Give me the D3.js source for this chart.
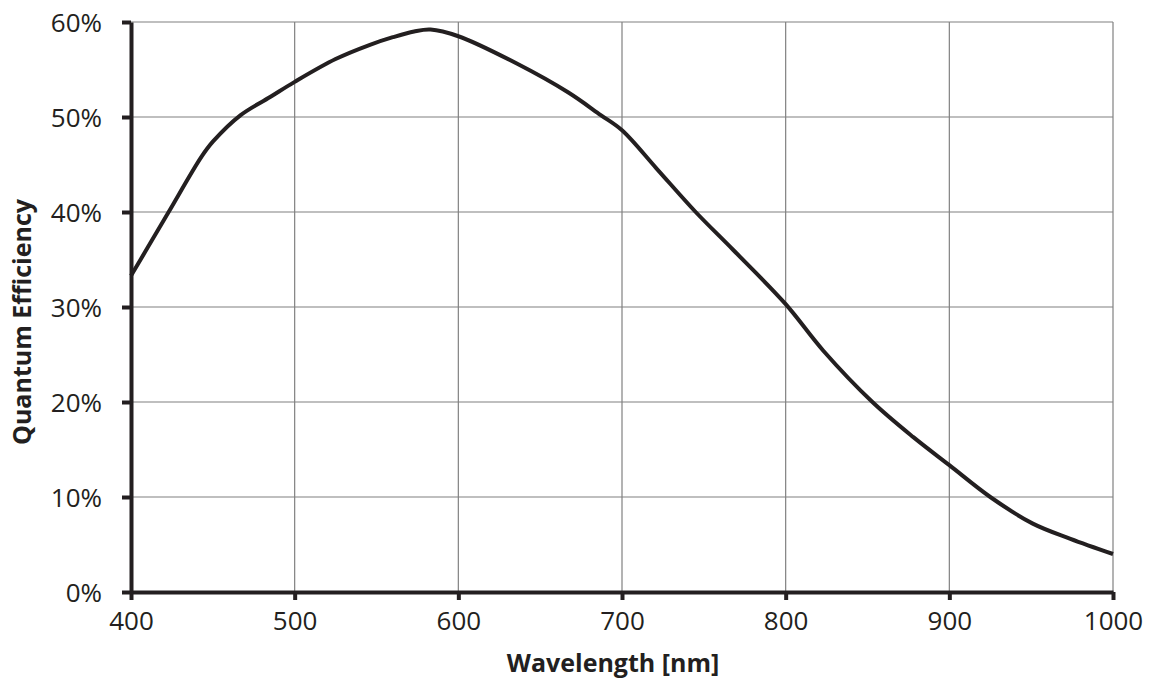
<!DOCTYPE html>
<meta charset="utf-8">
<html>
<head>
  <script src="https://d3js.org/d3.v7.min.js" charset="utf-8"></script>
</head>
<style>
body { margin: 0; background: white; }
text { font-family: "Open Sans", sans-serif; fill: #231f20; }
.tick-label { font-size: 26px; }
.title { font-size: 25px; font-weight: bold; text-anchor: middle; }
</style>
<body>
<div id="container"></div>
<script>
// wavelength in nm, quantum efficiency in %
var wavelengths = [400, 410, 423, 443, 450, 467, 485, 500, 525, 546, 560, 573, 583, 600,
                   636, 667, 687, 700, 721, 745, 768, 800, 823, 853, 878, 900, 925, 951, 974, 1000];
var efficiency  = [33.3, 36.2, 40.0, 45.8, 47.4, 50.2, 52.1, 53.7, 56.1, 57.6, 58.4, 59.0, 59.2, 58.5,
                   55.6, 52.6, 50.2, 48.6, 44.6, 40.0, 36.0, 30.3, 25.4, 20.0, 16.3, 13.35, 10.0, 7.2, 5.6, 4.0];
var xTicks = [400, 500, 600, 700, 800, 900, 1000];
var yTicks = [0, 10, 20, 30, 40, 50, 60];

var width = 1152, height = 680;
var margin = {left: 131, right: 39, top: 22, bottom: 88};

var svg = d3.select("#container").append("svg")
    .attr("width", width).attr("height", height);

var x = d3.scaleLinear().domain([400, 1000]).range([margin.left, width - margin.right]);
var y = d3.scaleLinear().domain([0, 60]).range([height - margin.bottom, margin.top]);

// grid
svg.append("g").selectAll("line").data(yTicks.filter(d => d > 0)).enter().append("line")
    .attr("x1", margin.left).attr("x2", width - margin.right)
    .attr("y1", d => y(d)).attr("y2", d => y(d))
    .attr("stroke", "#808080").attr("stroke-width", 1.2);
svg.append("g").selectAll("line").data(xTicks.filter(d => d > 400)).enter().append("line")
    .attr("x1", d => x(d)).attr("x2", d => x(d))
    .attr("y1", margin.top).attr("y2", height - margin.bottom)
    .attr("stroke", "#808080").attr("stroke-width", 1.2);

// curve
var pts = wavelengths.map((w, i) => [w, efficiency[i]]);
var line = d3.line().x(d => x(d[0])).y(d => y(d[1])).curve(d3.curveCatmullRom.alpha(0.5));
svg.append("path").datum(pts)
    .attr("d", line)
    .attr("fill", "none").attr("stroke", "#231f20").attr("stroke-width", 4)
    .attr("stroke-linejoin", "round");

// axes
var xAxis = d3.axisBottom(x).tickValues(xTicks).tickSize(8).tickPadding(12).tickSizeOuter(0)
    .tickFormat(d => String(d));
var yAxis = d3.axisLeft(y).tickValues(yTicks).tickSize(9).tickPadding(20).tickSizeOuter(0)
    .tickFormat(d => d + "%");

var gx = svg.append("g").attr("transform", "translate(0," + (height - margin.bottom) + ")").call(xAxis);
var gy = svg.append("g").attr("transform", "translate(" + margin.left + ",0)").call(yAxis);

[gx, gy].forEach(g => {
  g.select(".domain").attr("stroke", "#231f20").attr("stroke-width", 4);
  g.selectAll(".tick line").attr("stroke", "#231f20").attr("stroke-width", 4);
  g.selectAll(".tick text").attr("class", "tick-label").attr("fill", "#231f20");
});
gy.selectAll(".tick text").attr("dy", "0.35em");

svg.append("text").attr("class", "title")
    .attr("x", 613).attr("y", 672)
    .text("Wavelength [nm]");
svg.append("text").attr("class", "title")
    .attr("transform", "translate(31," + 322 + ") rotate(-90)")
    .text("Quantum Efficiency");
</script>
</body>
</html>
